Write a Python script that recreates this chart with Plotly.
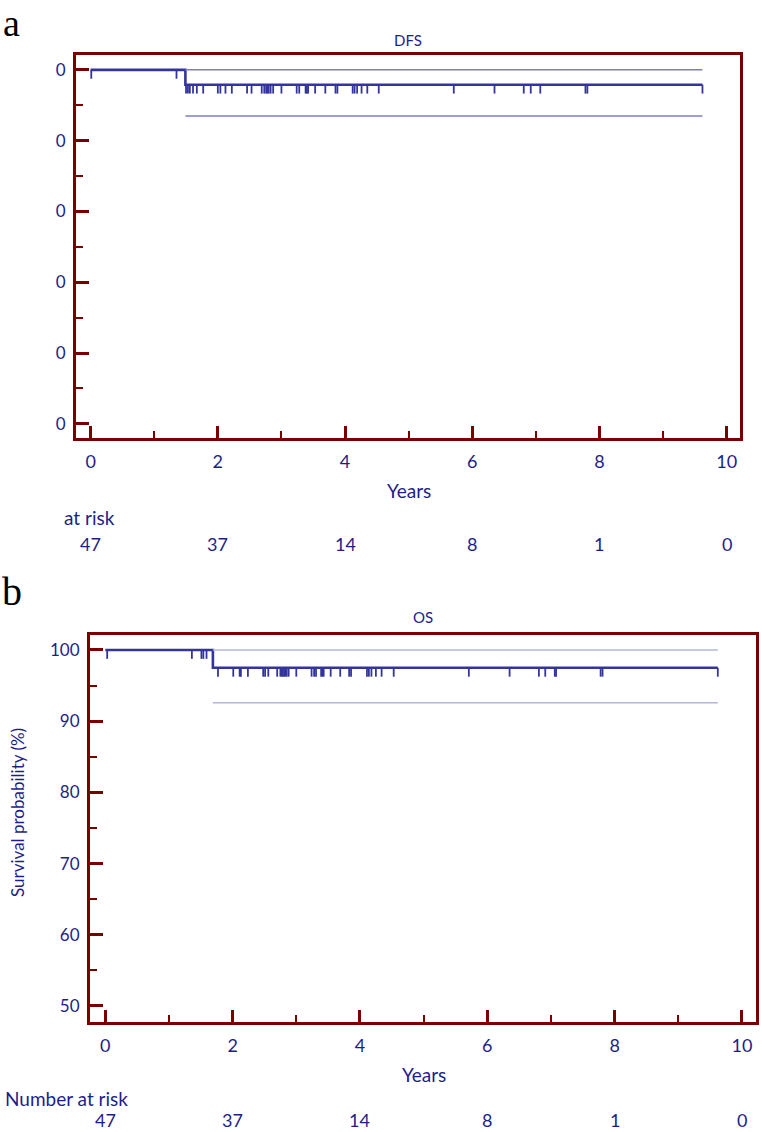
import plotly.graph_objects as go

# ---------------- data ----------------
years_ticks = [0, 2, 4, 6, 8, 10]

dfs_event_time = 1.49
dfs_surv_after = 97.9
dfs_lower_ci = 93.5
dfs_upper_ci = 100.0
dfs_end = 9.62
dfs_censor_times = [0.01, 1.35, 1.50, 1.53, 1.56, 1.61, 1.67, 1.77, 2.00, 2.04, 2.12, 2.22,
                    2.46, 2.53, 2.69, 2.73, 2.76, 2.78, 2.80, 2.83, 2.87, 3.00, 3.24, 3.28,
                    3.38, 3.40, 3.42, 3.53, 3.69, 3.85, 3.88, 4.12, 4.15, 4.19, 4.26, 4.35,
                    4.53, 5.71, 6.35, 6.81, 6.92, 7.07, 7.78, 7.81, 9.62]
dfs_at_risk = [47, 37, 14, 8, 1, 0]

os_event_time = 1.69
os_surv_after = 97.5
os_lower_ci = 92.6
os_upper_ci = 100.0
os_end = 9.62
os_censor_times = [0.03, 1.36, 1.51, 1.54, 1.59, 1.77, 2.01, 2.11, 2.13, 2.24, 2.48, 2.51,
                   2.56, 2.70, 2.75, 2.77, 2.79, 2.81, 2.83, 2.85, 2.88, 3.00, 3.24, 3.28,
                   3.31, 3.39, 3.41, 3.43, 3.54, 3.69, 3.83, 3.86, 4.11, 4.14, 4.18, 4.25,
                   4.34, 4.53, 5.71, 6.35, 6.81, 6.91, 7.06, 7.08, 7.78, 7.81, 9.62]
os_at_risk = [47, 37, 14, 8, 1, 0]

y_ticks = [50, 60, 70, 80, 90, 100]
dfs_ytick_text = ["0", "0", "0", "0", "0", "0"]
os_ytick_text = ["50", "60", "70", "80", "90", "100"]

# ---------------- styles ----------------
W, H = 762, 1132
FRAME = "#7A0000"
CURVE = "#34349C"
TEXT = "#1E1E8A"
FONT = "Lato"
TICK_DROP = 1.25

fig = go.Figure()


def add_km(xa, ya, ev, s_after, lo, hi, end, censors, band_color):
    # survival curve
    fig.add_trace(go.Scatter(x=[0, ev, end], y=[100, s_after, s_after], mode="lines",
                             line=dict(color=CURVE, width=2.6, shape="hv"),
                             xaxis=xa, yaxis=ya, showlegend=False, hoverinfo="skip"))
    # confidence bands
    for v in (hi, lo):
        fig.add_trace(go.Scatter(x=[ev, end], y=[v, v], mode="lines",
                                 line=dict(color=band_color, width=1.5),
                                 xaxis=xa, yaxis=ya, showlegend=False, hoverinfo="skip"))
    # censor marks
    cx, cy = [], []
    for t in censors:
        s = 100 if t < ev else s_after
        cx += [t, t, None]
        cy += [s, s - TICK_DROP, None]
    fig.add_trace(go.Scatter(x=cx, y=cy, mode="lines",
                             line=dict(color=CURVE, width=1.8),
                             xaxis=xa, yaxis=ya, showlegend=False, hoverinfo="skip"))


add_km("x", "y", dfs_event_time, dfs_surv_after, dfs_lower_ci, dfs_upper_ci, dfs_end,
       dfs_censor_times, "#7C7CCC")
add_km("x2", "y2", os_event_time, os_surv_after, os_lower_ci, os_upper_ci, os_end,
       os_censor_times, "#B4B4DE")


def xax(domain, rng, anchor):
    return dict(domain=domain, range=rng, anchor=anchor, tickvals=years_ticks,
                ticks="inside", ticklen=12, tickwidth=2.5, tickcolor=FRAME,
                minor=dict(dtick=1, tick0=0, ticks="inside", ticklen=7, tickwidth=2, tickcolor=FRAME),
                showline=True, linewidth=3, linecolor=FRAME, mirror=True,
                showgrid=False, zeroline=False, ticklabelstandoff=5,
                tickfont=dict(family=FONT, size=18, color=TEXT))


def yax(domain, rng, anchor, ticktext):
    return dict(domain=domain, range=rng, anchor=anchor, tickvals=y_ticks, ticktext=ticktext,
                ticks="inside", ticklen=13, tickwidth=2.5, tickcolor=FRAME,
                minor=dict(dtick=5, tick0=0, ticks="inside", ticklen=7, tickwidth=2, tickcolor=FRAME),
                showline=True, linewidth=3, linecolor=FRAME, mirror=True,
                showgrid=False, zeroline=False, ticklabelstandoff=4,
                tickfont=dict(family=FONT, size=17, color=TEXT))


fig.update_layout(
    width=W, height=H, margin=dict(l=0, r=0, t=0, b=0),
    paper_bgcolor="white", plot_bgcolor="white",
    xaxis=xax([76 / W, 740 / W], [-0.23, 10.21], "y"),
    yaxis=yax([1 - 438 / H, 1 - 55 / H], [48.0, 102.1], "x", dfs_ytick_text),
    xaxis2=xax([90 / W, 756 / W], [-0.24, 10.22], "y2"),
    yaxis2=yax([1 - 1022 / H, 1 - 635 / H], [47.75, 102.1], "x2", os_ytick_text),
)

ann = []


def txt(x, y, s, size=17, xref="paper", xanchor="center", family=FONT, color=TEXT, angle=0,
        yanchor="middle"):
    ann.append(dict(x=x, y=y, xref=xref, yref="paper", text=s, showarrow=False,
                    xanchor=xanchor, yanchor=yanchor, textangle=angle,
                    font=dict(family=family, size=size, color=color)))


# panel letters
txt(1 / W, 1.0, "a", size=38, xanchor="left", family="Liberation Serif", color="black",
    yanchor="top")
txt(0 / W, 1 - 591 / H, "b", size=40, xanchor="left", family="Liberation Serif", color="black")
# titles
txt(408 / W, 1 - 40 / H, "DFS", size=15)
txt(423 / W, 1 - 617 / H, "OS", size=15)
# axis titles
txt(409 / W, 1 - 491 / H, "Years", size=19)
txt(424 / W, 1 - 1074 / H, "Years", size=19)
txt(17 / W, 1 - 813 / H, "Survival probability (%)", size=17, angle=-90)
# at risk
txt(62 / W, 1 - 518 / H, "at risk", size=19, xanchor="left")
txt(3 / W, 1 - 1098 / H, "Number at risk", size=19, xanchor="left")
for t, n in zip(years_ticks, dfs_at_risk):
    txt(t, 1 - 544 / H, str(n), size=18, xref="x")
for t, n in zip(years_ticks, os_at_risk):
    txt(t, 1 - 1120 / H, str(n), size=18, xref="x2")

fig.update_layout(annotations=ann)
fig.write_html("out.html")
